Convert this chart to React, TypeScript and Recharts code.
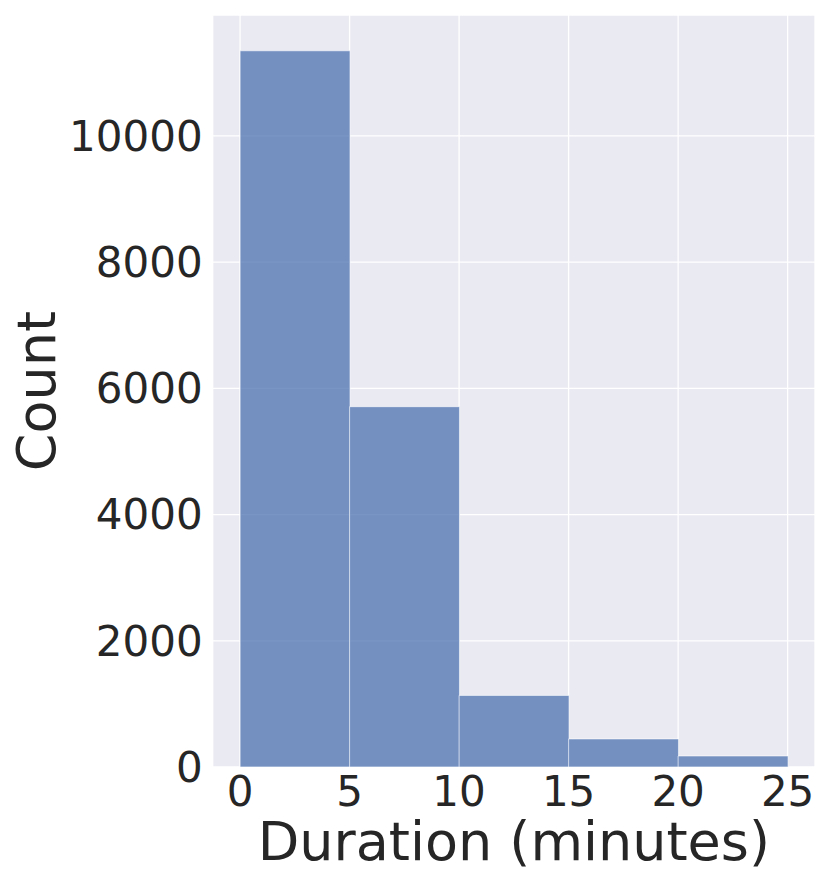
import { BarChart, Bar, XAxis, YAxis, CartesianGrid } from 'recharts';

// histogram bins: 5-minute wide, centred values
const binCenters = [2.5, 7.5, 12.5, 17.5, 22.5];
const counts = [11350, 5710, 1135, 445, 175];
const xTicks = [0, 5, 10, 15, 20, 25];
const yTicks = [0, 2000, 4000, 6000, 8000, 10000];

const data = binCenters.map((x, i) => ({ x, count: counts[i] }));

const FONT = '"DejaVu Sans", sans-serif';
const INK = '#262626';

const XLabel = (props: any) => {
  const { x, y, width } = props.viewBox;
  return (
    <text x={x + width / 2} y={y + 93} textAnchor="middle" fontSize={54} fill={INK} fontFamily={FONT}>
      Duration (minutes)
    </text>
  );
};

const YLabel = (props: any) => {
  const { y, height } = props.viewBox;
  const cy = y + height / 2;
  return (
    <text x={55} y={cy} transform={`rotate(-90, 55, ${cy})`} textAnchor="middle" fontSize={54} fill={INK} fontFamily={FONT}>
      Count
    </text>
  );
};

const App = () => (
  <div style={{ position: 'absolute', top: 0, left: 0, width: 830, height: 886, background: '#fff' }}>
    <BarChart width={830} height={886} data={data} margin={{ top: 15, right: 15, left: 0, bottom: 0 }} barCategoryGap={0}>
      <CartesianGrid fill="#EAEAF2" stroke="#ffffff" strokeWidth={1.3} />
      <XAxis
        dataKey="x"
        type="number"
        domain={[-1.25, 26.25]}
        ticks={xTicks}
        height={119}
        axisLine={false}
        tickLine={false}
        tickSize={0}
        tickMargin={9}
        tick={{ fontSize: 42, fill: INK, fontFamily: FONT }}
        label={{ content: XLabel }}
      />
      <YAxis
        type="number"
        domain={[0, 11917]}
        ticks={yTicks}
        width={212.7}
        axisLine={false}
        tickLine={false}
        tickSize={0}
        tickMargin={10}
        tick={{ fontSize: 42, fill: INK, fontFamily: FONT }}
        label={{ content: YLabel }}
      />
      <Bar dataKey="count" fill="#4C72B0" fillOpacity={0.75} stroke="#ffffff" strokeOpacity={0.6} strokeWidth={1} isAnimationActive={false} />
    </BarChart>
  </div>
);

export default App;
